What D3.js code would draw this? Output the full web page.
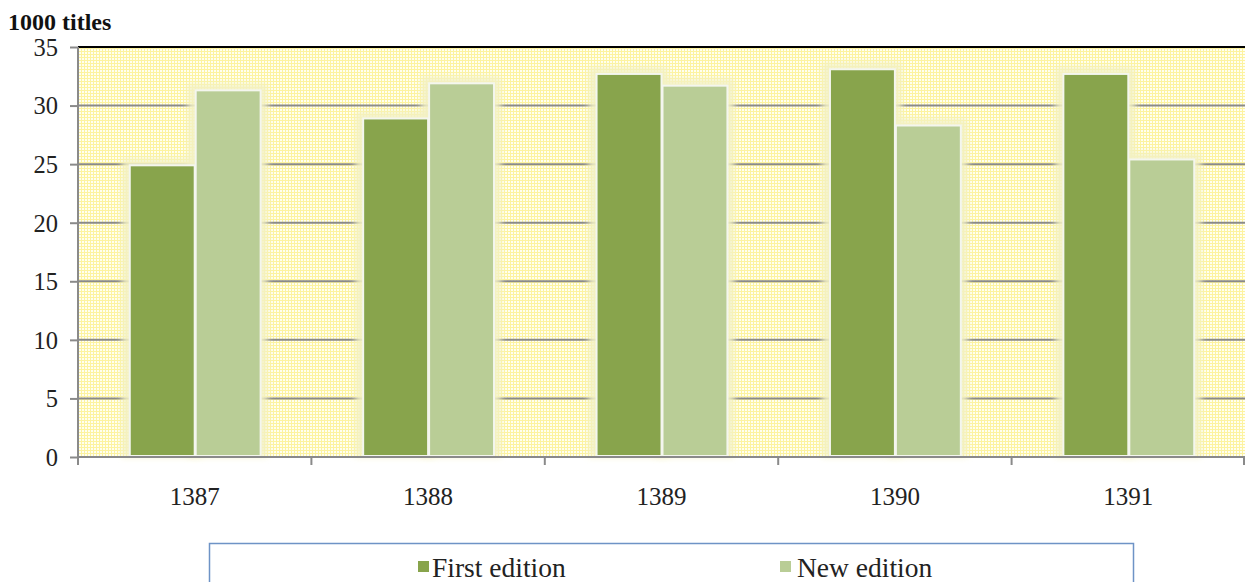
<!DOCTYPE html>
<html><head><meta charset="utf-8">
<script src="https://cdn.jsdelivr.net/npm/d3@7"></script>
<style>body{margin:0;background:#fff}svg{display:block}text{font-family:"Liberation Serif","Times New Roman",serif}</style>
</head><body><svg id="c" width="1245" height="582"></svg>
<script>
const categories = ["1387","1388","1389","1390","1391"];
const firstEdition = [24.9, 28.9, 32.7, 33.1, 32.7];
const newEdition = [31.3, 31.9, 31.7, 28.3, 25.4];
const seriesNames = ["First edition","New edition"];
const yTicks = [0,5,10,15,20,25,30,35];
const colors = ["#88a44c","#b9cd96"];

const svg = d3.select("#c");
const L=78, R=1245, T=47, B=457;
const x = d3.scaleBand().domain(categories).range([L,R]).paddingInner(0).paddingOuter(0);
const xs = d3.scaleBand().domain(seriesNames).range([0,x.bandwidth()]).paddingInner(0.0).paddingOuter(0.77);
const y = d3.scaleLinear().domain([0,35]).range([B,T]);

const defs = svg.append("defs");
const pat = defs.append("pattern").attr("id","grid").attr("width",3).attr("height",3).attr("patternUnits","userSpaceOnUse");
pat.append("rect").attr("width",3).attr("height",3).attr("fill","#fffff0");
pat.append("rect").attr("width",3).attr("height",1).attr("fill","#fdf3a0");
pat.append("rect").attr("width",1).attr("height",3).attr("fill","#fdf3a0");
defs.append("filter").attr("id","glow").attr("x","-20%").attr("y","-20%").attr("width","140%").attr("height","140%")
  .append("feGaussianBlur").attr("stdDeviation",3);

svg.append("rect").attr("x",L).attr("y",T).attr("width",R-L).attr("height",B-T).attr("fill","url(#grid)");

// gridlines
svg.append("g").selectAll("line").data(yTicks.filter(d=>d>0&&d<35)).join("line")
  .attr("x1",L).attr("x2",R).attr("y1",d=>y(d)).attr("y2",d=>y(d))
  .attr("stroke","#8a8a8a").attr("stroke-width",2);
svg.append("line").attr("x1",L).attr("x2",R).attr("y1",T).attr("y2",T).attr("stroke","#000").attr("stroke-width",2);

const data = categories.map((c,i)=>({c, vals:[firstEdition[i], newEdition[i]]}));
const groups = svg.append("g").selectAll("g").data(data).join("g").attr("transform",d=>`translate(${x(d.c)},0)`);
// glow
groups.selectAll("rect.glow").data(d=>d.vals.map((v,j)=>({v,s:seriesNames[j],j}))).join("rect").attr("class","glow")
  .attr("x",d=>xs(d.s)-7).attr("width",xs.bandwidth()+14)
  .attr("y",d=>y(d.v)-7).attr("height",d=>B-y(d.v)+7)
  .attr("fill","#f3f1c4").attr("opacity",0.9).attr("filter","url(#glow)");
groups.selectAll("rect.bar").data(d=>d.vals.map((v,j)=>({v,s:seriesNames[j],j}))).join("rect").attr("class","bar")
  .attr("x",d=>xs(d.s)+1).attr("width",xs.bandwidth()-1)
  .attr("y",d=>y(d.v)).attr("height",d=>B-y(d.v)-1)
  .attr("fill",d=>colors[d.j]).attr("stroke","#f4f6ee").attr("stroke-width",2);

// y axis
const ya = svg.append("g").attr("transform",`translate(${L},0)`)
  .call(d3.axisLeft(y).tickValues(yTicks).tickSize(8).tickPadding(12));
ya.attr("font-family",null);
ya.select(".domain").attr("stroke","#8a8a8a").attr("stroke-width",2).attr("d",`M0,${T}V${B}`);
ya.selectAll(".tick line").attr("stroke","#8a8a8a").attr("stroke-width",2);
ya.selectAll("text").attr("font-size",24.5).attr("fill","#222").attr("dy","0.34em");

// x axis
const xa = svg.append("g").attr("transform",`translate(0,${B})`)
  .call(d3.axisBottom(x).tickSize(0).tickPadding(30));
xa.attr("font-family",null);
xa.select(".domain").attr("stroke","#8a8a8a").attr("stroke-width",2).attr("d",`M${L},0H${R}`);
xa.selectAll("text").attr("font-size",25).attr("fill","#222");
const bounds = categories.map(c=>x(c)).concat([R-1]);
xa.selectAll("line.b").data(bounds).join("line").attr("class","b")
  .attr("x1",d=>d).attr("x2",d=>d).attr("y1",0).attr("y2",8).attr("stroke","#8a8a8a").attr("stroke-width",2);

svg.append("text").attr("x",8).attr("y",30).attr("font-weight","bold")
  .attr("font-size",24).attr("fill","#111").text("1000 titles");

// legend
svg.append("rect").attr("x",209.5).attr("y",543.5).attr("width",924).attr("height",60)
  .attr("fill","#fff").attr("stroke","#6e93c6").attr("stroke-width",1.5);
const legX = [418, 780];
const lg = svg.append("g").selectAll("g").data(seriesNames).join("g").attr("transform",(d,i)=>`translate(${legX[i]},0)`);
lg.append("rect").attr("x",0).attr("y",561).attr("width",11).attr("height",11).attr("fill",(d,i)=>colors[i]);
lg.append("text").attr("x",(d,i)=>i===0?14:17).attr("y",577).attr("font-size",27.5).attr("fill","#222").text(d=>d);
</script></body></html>
